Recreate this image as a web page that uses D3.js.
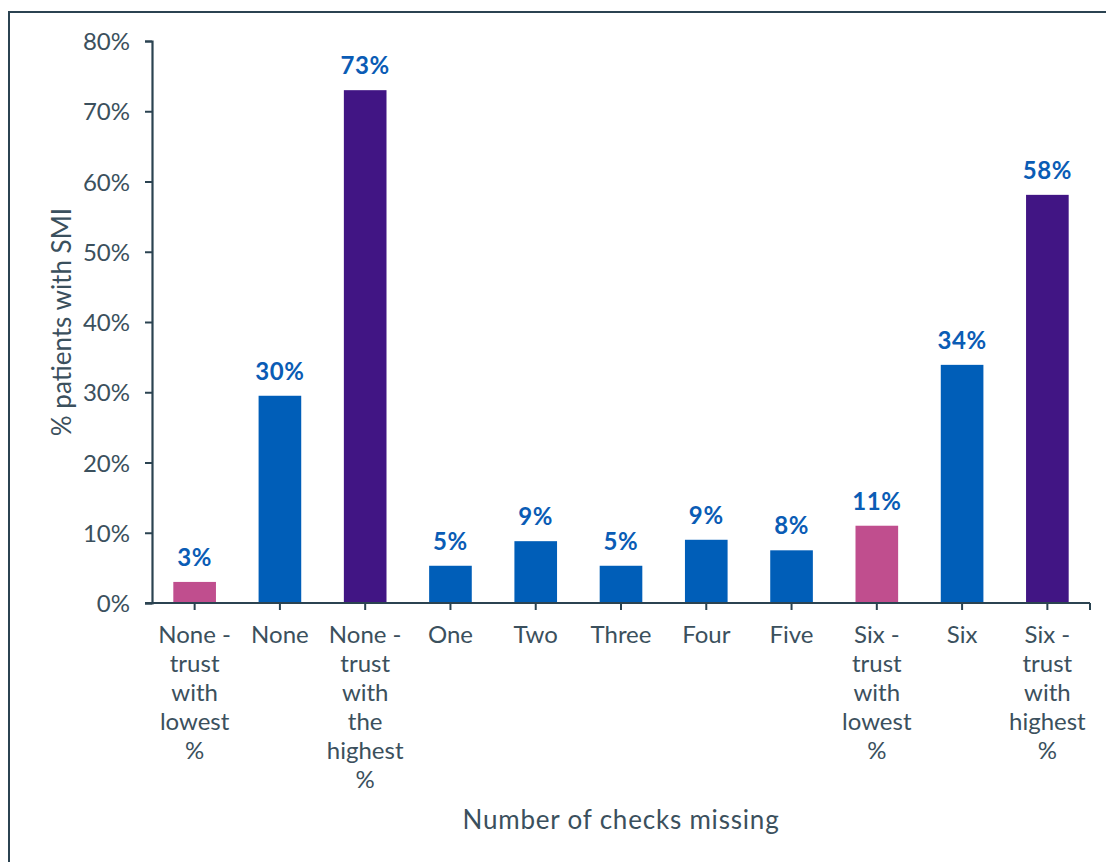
<!DOCTYPE html>
<html>
<head>
<meta charset="utf-8">
<script src="https://cdn.jsdelivr.net/npm/d3@7"></script>
<style>
  html, body { margin: 0; padding: 0; background: #fff; }
  svg { display: block; }
  text { font-family: Lato, "Open Sans", sans-serif; }
</style>
</head>
<body>
<svg id="chart" width="1106" height="862"></svg>
<script>
// Share of patients with SMI by number of physical health checks missing
const categories = [
  "None - trust with lowest %",
  "None",
  "None - trust with the highest %",
  "One",
  "Two",
  "Three",
  "Four",
  "Five",
  "Six - trust with lowest %",
  "Six",
  "Six - trust with highest %"
];
// wrapped label lines under each bar
const categoryLines = [
  ["None -", "trust", "with", "lowest", "%"],
  ["None"],
  ["None -", "trust", "with", "the", "highest", "%"],
  ["One"],
  ["Two"],
  ["Three"],
  ["Four"],
  ["Five"],
  ["Six -", "trust", "with", "lowest", "%"],
  ["Six"],
  ["Six -", "trust", "with", "highest", "%"]
];
const values = [3.0, 29.5, 73.0, 5.3, 8.8, 5.3, 9.0, 7.5, 11.0, 33.9, 58.1];
// bar group: trust extremes vs national figures
const groups = ["low", "all", "high", "all", "all", "all", "all", "all", "low", "all", "high"];
const yTicks = [0, 10, 20, 30, 40, 50, 60, 70, 80];
const yTickLabels = ["0%", "10%", "20%", "30%", "40%", "50%", "60%", "70%", "80%"];
const xTitle = "Number of checks missing";
const yTitle = "% patients with SMI";

const colors = { low: "#c04e8e", all: "#005eb8", high: "#411584" };
const axisColor = "#2b4351";
const textColor = "#3b505d";

const svg = d3.select("#chart");

// outer frame
svg.append("path")
  .attr("d", "M9,870 V12 H1115")
  .attr("fill", "none")
  .attr("stroke", axisColor)
  .attr("stroke-width", 2);

const plotLeft = 152, plotRight = 1090, plotTop = 41, plotBottom = 603;

const x = d3.scaleBand().domain(categories).range([plotLeft, plotRight]).paddingInner(0.5).paddingOuter(0.25);
const y = d3.scaleLinear().domain([0, 80]).range([plotBottom, plotTop]);

// y axis
const yAxis = svg.append("g")
  .attr("transform", `translate(${plotLeft},0)`)
  .call(d3.axisLeft(y).tickValues(yTicks).tickFormat((d, i) => yTickLabels[i]).tickSize(7).tickPadding(15));
yAxis.select(".domain").attr("stroke", axisColor).attr("stroke-width", 2.2);
yAxis.selectAll(".tick line").attr("stroke", axisColor).attr("stroke-width", 2);
yAxis.selectAll(".tick text")
  .attr("fill", textColor)
  .style("font-size", "24px")
  .attr("dy", "0.36em");

// bars
svg.append("g").selectAll("rect")
  .data(values)
  .join("rect")
  .attr("x", (d, i) => x(categories[i]))
  .attr("width", x.bandwidth())
  .attr("y", d => y(d))
  .attr("height", d => y(0) - y(d))
  .attr("fill", (d, i) => colors[groups[i]]);

// value labels
svg.append("g").selectAll("text")
  .data(values)
  .join("text")
  .attr("x", (d, i) => x(categories[i]) + x.bandwidth() / 2)
  .attr("y", d => y(d) - 16)
  .attr("text-anchor", "middle")
  .attr("fill", "#0a5cb5")
  .style("font-size", "24px")
  .style("font-weight", "700")
  .style("letter-spacing", "0.6px")
  .text(d => Math.round(d) + "%");

// x axis
const xAxisG = svg.append("g").attr("transform", `translate(0,${plotBottom})`);
xAxisG.append("line")
  .attr("x1", plotLeft - 7).attr("x2", plotRight)
  .attr("stroke", axisColor).attr("stroke-width", 2.2);
const tickXs = categories.map(c => x(c) + x.bandwidth() / 2).concat([plotRight]);
xAxisG.selectAll("line.tick")
  .data(tickXs)
  .join("line")
  .attr("class", "tick")
  .attr("x1", d => d).attr("x2", d => d)
  .attr("y1", 0).attr("y2", 7)
  .attr("stroke", axisColor).attr("stroke-width", 2);

// category labels
const catG = svg.append("g");
categories.forEach((c, i) => {
  const cx = x(c) + x.bandwidth() / 2;
  const t = catG.append("text")
    .attr("text-anchor", "middle")
    .attr("fill", textColor)
    .style("font-size", "24px");
  categoryLines[i].forEach((line, j) => {
    t.append("tspan")
      .attr("x", cx)
      .attr("y", 643 + j * 29)
      .text(line);
  });
});

// axis titles
svg.append("text")
  .attr("x", (plotLeft + plotRight) / 2)
  .attr("y", 829)
  .attr("text-anchor", "middle")
  .attr("fill", textColor)
  .style("font-size", "26px")
  .style("letter-spacing", "0.8px")
  .text(xTitle);

svg.append("text")
  .attr("transform", `translate(71,${(plotTop + plotBottom) / 2}) rotate(-90)`)
  .attr("text-anchor", "middle")
  .attr("fill", textColor)
  .style("font-size", "26px")
  .text(yTitle);
</script>
</body>
</html>
